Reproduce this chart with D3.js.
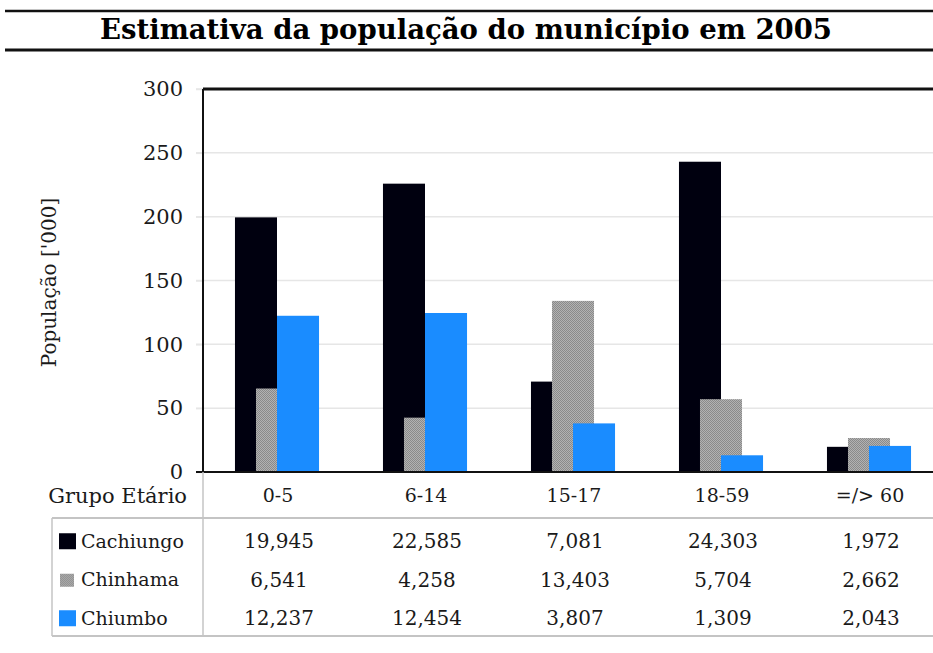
<!DOCTYPE html>
<html>
<head>
<meta charset="utf-8">
<script src="https://cdn.jsdelivr.net/npm/d3@7/dist/d3.min.js"></script>
<style>
  body { margin: 0; background: #fff; }
  svg { display: block; }
</style>
</head>
<body>
<div id="chart"></div>
<script>
// data (table values; bars are drawn on the ['000] axis)
var categories = ["0-5", "6-14", "15-17", "18-59", "=/> 60"];
var seriesNames = ["Cachiungo", "Chinhama", "Chiumbo"];
var cachiungo = [19945, 22585, 7081, 24303, 1972];
var chinhama = [6541, 4258, 13403, 5704, 2662];
var chiumbo = [12237, 12454, 3807, 1309, 2043];
var yTicks = [0, 5000, 10000, 15000, 20000, 25000, 30000];
var yTickLabels = ["0", "50", "100", "150", "200", "250", "300"];

var series = [cachiungo, chinhama, chiumbo];
var colors = ["#00000f", "url(#dither)", "#1a8cff"];
var serif = "'DejaVu Serif', serif";

var W = 933, H = 653;
var plot = {left: 203, right: 943, top: 89, bottom: 472};

var svg = d3.select("#chart")
  .append("svg")
    .attr("width", W)
    .attr("height", H);

// grey dithered fill for Chinhama
var pat = svg.append("defs").append("pattern")
  .attr("id", "dither")
  .attr("width", 2).attr("height", 2)
  .attr("patternUnits", "userSpaceOnUse");
pat.append("rect").attr("width", 2).attr("height", 2).attr("fill", "#b2b2b2");
pat.append("rect").attr("width", 1).attr("height", 1).attr("fill", "#8a8a8a");
pat.append("rect").attr("x", 1).attr("y", 1).attr("width", 1).attr("height", 1).attr("fill", "#8a8a8a");

// title band
svg.append("line").attr("x1", 5).attr("x2", W).attr("y1", 11).attr("y2", 11)
  .attr("stroke", "#111").attr("stroke-width", 2.5);
svg.append("line").attr("x1", 5).attr("x2", W).attr("y1", 50).attr("y2", 50)
  .attr("stroke", "#111").attr("stroke-width", 3);
svg.append("text")
  .attr("x", 466).attr("y", 39)
  .attr("text-anchor", "middle")
  .attr("textLength", 732)
  .attr("lengthAdjust", "spacingAndGlyphs")
  .style("font-family", serif)
  .style("font-weight", "bold")
  .style("font-size", "27px")
  .text("Estimativa da população do município em 2005");

// scales
var x = d3.scaleBand()
  .domain(categories)
  .range([plot.left, plot.right]);

var y = d3.scaleLinear()
  .domain([0, 30000])
  .range([plot.bottom, plot.top]);

// gridlines
svg.append("g")
  .selectAll("line")
  .data(yTicks)
  .enter()
  .append("line")
    .attr("x1", plot.left - 7)
    .attr("x2", plot.right)
    .attr("y1", function (d) { return y(d); })
    .attr("y2", function (d) { return y(d); })
    .attr("stroke", "#e6e6e6")
    .attr("stroke-width", 1.5);

// Y axis labels
var yAxis = svg.append("g")
  .attr("transform", "translate(" + plot.left + ",0)")
  .call(d3.axisLeft(y)
    .tickValues(yTicks)
    .tickFormat(function (d, i) { return yTickLabels[i]; })
    .tickSize(7)
    .tickPadding(13)
    .tickSizeOuter(0));
yAxis.select(".domain").remove();
yAxis.selectAll(".tick line").attr("stroke", "#e6e6e6").attr("stroke-width", 1.5);
yAxis.selectAll(".tick text")
  .style("font-family", serif)
  .style("font-size", "21px")
  .attr("fill", "#1a1a1a");

// bars
var barW = x.bandwidth() * 0.284;
series.forEach(function (vals, s) {
  svg.append("g")
    .selectAll("rect")
    .data(vals)
    .enter()
    .append("rect")
      .attr("x", function (d, i) { return x(categories[i]) + x.bandwidth() / 2 - barW + s * barW / 2; })
      .attr("y", function (d) { return y(d); })
      .attr("width", barW)
      .attr("height", function (d) { return y(0) - y(d); })
      .attr("fill", colors[s]);
});

// plot frame
svg.append("line").attr("x1", plot.left).attr("x2", plot.right).attr("y1", plot.top).attr("y2", plot.top)
  .attr("stroke", "#111").attr("stroke-width", 3);
svg.append("line").attr("x1", plot.left).attr("x2", plot.left).attr("y1", plot.top).attr("y2", plot.bottom)
  .attr("stroke", "#111").attr("stroke-width", 2);
svg.append("line").attr("x1", plot.left - 7).attr("x2", plot.right).attr("y1", plot.bottom).attr("y2", plot.bottom)
  .attr("stroke", "#111").attr("stroke-width", 2);

// y title
svg.append("text")
  .attr("transform", "translate(56," + ((plot.top + plot.bottom) / 2 + 2) + ") rotate(-90)")
  .attr("text-anchor", "middle")
  .style("font-family", serif)
  .style("font-size", "20px")
  .attr("fill", "#1a1a1a")
  .text("População ['000]");

// category row
svg.append("text")
  .attr("x", 187).attr("y", 496).attr("dy", "0.35em")
  .attr("text-anchor", "end")
  .style("font-family", serif)
  .style("font-size", "21px")
  .attr("fill", "#1a1a1a")
  .text("Grupo Etário");

svg.append("g")
  .selectAll("text")
  .data(categories)
  .enter()
  .append("text")
    .attr("x", function (d) { return x(d) + x.bandwidth() / 2 + 1; })
    .attr("y", 495).attr("dy", "0.35em")
    .attr("text-anchor", "middle")
    .style("font-family", serif)
    .style("font-size", "19px")
    .attr("fill", "#1a1a1a")
    .text(function (d) { return d; });

// data table
var row = d3.scaleBand()
  .domain(seriesNames)
  .range([522, 637.5]);
var fmt = d3.format(",");
var grey = "#c4c4c4";

svg.append("line").attr("x1", 52).attr("x2", W).attr("y1", 518).attr("y2", 518)
  .attr("stroke", grey).attr("stroke-width", 2);
svg.append("line").attr("x1", 52).attr("x2", W).attr("y1", 636).attr("y2", 636)
  .attr("stroke", grey).attr("stroke-width", 2);
svg.append("line").attr("x1", 52).attr("x2", 52).attr("y1", 518).attr("y2", 636)
  .attr("stroke", grey).attr("stroke-width", 1.5);
svg.append("line").attr("x1", plot.left).attr("x2", plot.left).attr("y1", plot.bottom).attr("y2", 636)
  .attr("stroke", grey).attr("stroke-width", 1.5);

var rows = svg.append("g")
  .selectAll("g")
  .data(seriesNames)
  .enter()
  .append("g")
    .attr("transform", function (d) { return "translate(0," + (row(d) + row.bandwidth() / 2) + ")"; });

rows.append("rect")
  .attr("x", function (d, s) { return s === 1 ? 60 : 59; })
  .attr("y", function (d, s) { return s === 1 ? -6 : -8; })
  .attr("width", function (d, s) { return s === 1 ? 14 : 17; })
  .attr("height", function (d, s) { return s === 1 ? 13 : 16; })
  .attr("fill", function (d, s) { return colors[s]; });

rows.append("text")
  .attr("x", 81).attr("dy", "0.35em")
  .style("font-family", serif)
  .style("font-size", "19px")
  .attr("fill", "#1a1a1a")
  .text(function (d) { return d; });

rows.each(function (name, s) {
  d3.select(this).selectAll(".val")
    .data(series[s])
    .enter()
    .append("text")
      .attr("class", "val")
      .attr("x", function (d, i) { return x(categories[i]) + x.bandwidth() / 2 + 2; })
      .attr("dy", "0.35em")
      .attr("text-anchor", "middle")
      .style("font-family", serif)
      .style("font-size", "20px")
      .attr("fill", "#1a1a1a")
      .text(function (d) { return fmt(d); });
});
</script>
</body>
</html>
